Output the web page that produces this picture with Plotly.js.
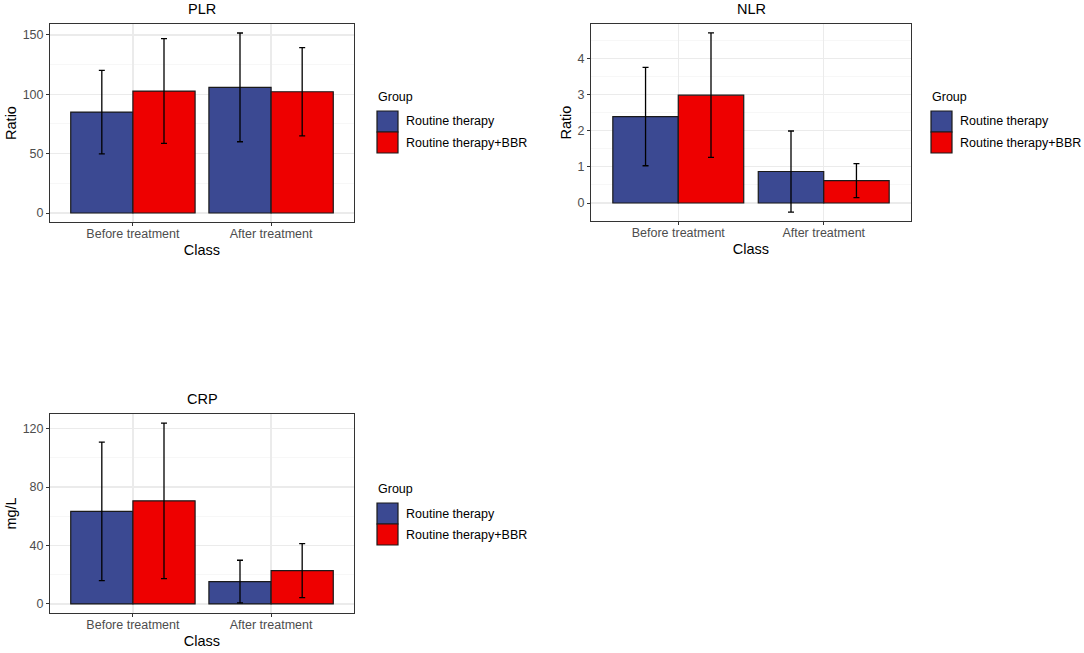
<!DOCTYPE html>
<html>
<head>
<meta charset="utf-8">
<script src="https://cdn.plot.ly/plotly-3.0.1.min.js"></script>
<style>html,body{margin:0;padding:0;background:#fff;}#chart{width:1084px;height:653px;}</style>
</head>
<body>
<div id="chart"></div>
<script>
// ---- data ----
const classes = ["Before treatment", "After treatment"];
const groups = ["Routine therapy", "Routine therapy+BBR"];

const plrRoutine = [85, 105.8];
const plrRoutineSD = [35.2, 45.8];
const plrBBR = [102.7, 102.1];
const plrBBRSD = [44.1, 37.2];

const nlrRoutine = [2.39, 0.87];
const nlrRoutineSD = [1.36, 1.12];
const nlrBBR = [2.98, 0.62];
const nlrBBRSD = [1.72, 0.47];

const crpRoutine = [63.3, 15.3];
const crpRoutineSD = [47.4, 14.6];
const crpBBR = [70.6, 22.8];
const crpBBRSD = [53.2, 18.5];

const panelTitles = ["PLR", "NLR", "CRP"];
const yTitles = ["Ratio", "Ratio", "mg/L"];
const legendTitle = "Group";

// ---- styling ----
const W = 1084, H = 653;
const FONT = "Liberation Sans, Arial, sans-serif";
const colors = ["#3B4992", "#EE0000"];
const px = v => v / W;
const py = v => 1 - v / H;

function expandRange(lo, hi) {
  const d = (hi - lo) * 0.05;
  return [lo - d, hi + d];
}
function dataRange(vals, sds) {
  let lo = 0, hi = 0;
  vals.forEach((v, i) => { lo = Math.min(lo, v - sds[i]); hi = Math.max(hi, v + sds[i]); });
  return expandRange(lo, hi);
}

const panels = [
  {vals: [plrRoutine, plrBBR], sds: [plrRoutineSD, plrBBRSD], dtick: 50},
  {vals: [nlrRoutine, nlrBBR], sds: [nlrRoutineSD, nlrBBRSD], dtick: 1},
  {vals: [crpRoutine, crpBBR], sds: [crpRoutineSD, crpBBRSD], dtick: 40}
];
const boxes = [
  {l: 50, r: 354, t: 24, b: 222},
  {l: 591, r: 911, t: 24, b: 221},
  {l: 50, r: 354, t: 414, b: 613}
];

const traces = [];
const layout = {
  width: W, height: H,
  margin: {l: 0, r: 0, t: 0, b: 0},
  paper_bgcolor: "#fff", plot_bgcolor: "#fff",
  barmode: "group", bargap: 0.1, bargroupgap: 0,
  showlegend: false,
  font: {family: FONT, color: "#000"},
  annotations: [], shapes: []
};

panels.forEach((p, k) => {
  const sfx = k === 0 ? "" : String(k + 1);
  p.vals.forEach((v, g) => {
    traces.push({
      type: "bar", x: classes, y: v, name: groups[g],
      xaxis: "x" + sfx, yaxis: "y" + sfx,
      marker: {color: colors[g], line: {color: "#1a1a1a", width: 1.2}},
      error_y: {type: "data", array: p.sds[g], visible: true, color: "#000", thickness: 1.3, width: 3},
      hoverinfo: "x+y"
    });
  });
  const allV = p.vals[0].concat(p.vals[1]);
  const allS = p.sds[0].concat(p.sds[1]);
  const b = boxes[k];
  layout["xaxis" + sfx] = {
    domain: [px(b.l), px(b.r)], anchor: "y" + sfx,
    type: "category", range: [-0.6, 1.6],
    showgrid: true, gridcolor: "#EBEBEB", gridwidth: 1.2,
    showline: true, mirror: true, linecolor: "#333333", linewidth: 1,
    ticks: "outside", ticklen: 3, tickcolor: "#333333",
    ticklabelstandoff: -3,
    tickfont: {family: FONT, size: 12.5, color: "#4D4D4D"},
    title: {text: "Class", font: {family: FONT, size: 14.5, color: "#000"}, standoff: 4},
    zeroline: false, fixedrange: true
  };
  layout["yaxis" + sfx] = {
    domain: [py(b.b), py(b.t)], anchor: "x" + sfx,
    range: dataRange(allV, allS), dtick: p.dtick, tick0: 0,
    showgrid: true, gridcolor: "#EBEBEB", gridwidth: 1.2,
    minor: {dtick: p.dtick / 2, showgrid: true, gridcolor: "#F2F2F2", gridwidth: 0.6},
    showline: true, mirror: true, linecolor: "#333333", linewidth: 1,
    ticks: "outside", ticklen: 3, tickcolor: "#333333",
    tickfont: {family: FONT, size: 12.5, color: "#4D4D4D"},
    title: {text: yTitles[k], font: {family: FONT, size: 14.5, color: "#000"}, standoff: 2},
    zeroline: false, fixedrange: true
  };
  // panel title
  layout.annotations.push({
    text: panelTitles[k], xref: "paper", yref: "paper",
    x: px((b.l + b.r) / 2), y: py(b.t - 15), xanchor: "center", yanchor: "middle",
    showarrow: false, font: {family: FONT, size: 14.5, color: "#000"}
  });
});

// ---- legends (drawn as guide keys) ----
const legendPos = [{x: 377, y: 97}, {x: 931, y: 97}, {x: 377, y: 489}];
legendPos.forEach(L => {
  layout.annotations.push({
    text: legendTitle, xref: "paper", yref: "paper",
    x: px(L.x - 1), y: py(L.y), xanchor: "left", yanchor: "middle",
    showarrow: false, font: {family: FONT, size: 12.5, color: "#000"}
  });
  groups.forEach((g, i) => {
    const top = L.y + 14 + i * 21;
    layout.shapes.push({
      type: "rect", xref: "paper", yref: "paper",
      x0: px(L.x), x1: px(L.x + 21), y0: py(top + 21), y1: py(top),
      fillcolor: colors[i], line: {color: "#1a1a1a", width: 1.2}
    });
    layout.annotations.push({
      text: g, xref: "paper", yref: "paper",
      x: px(L.x + 27), y: py(top + 10.5), xanchor: "left", yanchor: "middle",
      showarrow: false, font: {family: FONT, size: 12.5, color: "#000"}
    });
  });
});

Plotly.newPlot("chart", traces, layout, {displayModeBar: false, staticPlot: true});
</script>
</body>
</html>
